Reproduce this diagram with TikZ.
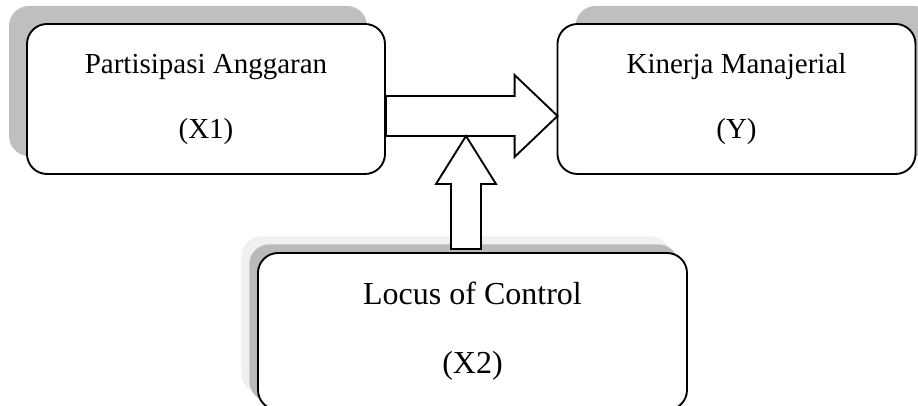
\documentclass[tikz,border=0pt]{standalone}
\usepackage{fontspec}
\setmainfont{Liberation Serif}
\usetikzlibrary{calc,shadows}

\tikzset{
    kotak/.style={draw, line width=1.4pt, fill=white, rounded corners=15pt,
        align=center, minimum width=268.5pt, minimum height=112.5pt,
        font=\fontsize{21.75pt}{48.75pt}\selectfont},
    panah/.style={draw, line width=1.4pt, fill=white, line join=miter}
}

\begin{document}
\begin{tikzpicture}[x=0.75pt, y=0.75pt]
    \useasboundingbox (0, 0) rectangle (918, 406);
    \clip (0, 0) rectangle (918, 406);

    % 上面两个框
    \node[kotak, drop shadow={shadow xshift=-13.5pt, shadow yshift=13.5pt, opacity=1, fill=black!25}]
        (x1) at (206, 307) {Partisipasi Anggaran\\(X1)};
    \node[kotak, drop shadow={shadow xshift=13.5pt, shadow yshift=13.5pt, opacity=1, fill=black!25}]
        (y) at (736.5, 307) {Kinerja Manajerial\\(Y)};

    % 下面的框
    \node[kotak, minimum width=321.75pt, minimum height=117.75pt,
        font=\fontsize{24pt}{51.75pt}\selectfont,
        drop shadow={shadow xshift=-12.5pt, shadow yshift=12.5pt, opacity=1, fill=black!6},
        drop shadow={shadow xshift=-6.5pt, shadow yshift=6.5pt, opacity=1, fill=black!27}]
        (x2) at (472.5, 74.5) {Locus of Control\\(X2)};

    % 横向箭头
    \coordinate (ha) at ($(x1.east)+(0,-17)$);
    \coordinate (hb) at ($(y.west)+(1,-17)$);
    \draw[panah] ($(ha)+(0,20)$) -- ($(hb)+(-43,20)$) -- ($(hb)+(-43,41)$) -- (hb)
        -- ($(hb)+(-43,-41)$) -- ($(hb)+(-43,-20)$) -- ($(ha)+(0,-20)$) -- cycle;

    % 纵向箭头
    \coordinate (va) at ($(x2.north)+(-6.5,3)$);
    \coordinate (vb) at (va |- {$(ha)+(0,-20)$});
    \draw[panah] ($(va)+(-15,0)$) -- ($(vb)+(-15,-48)$) -- ($(vb)+(-30,-48)$) -- (vb)
        -- ($(vb)+(30,-48)$) -- ($(vb)+(15,-48)$) -- ($(va)+(15,0)$) -- cycle;
\end{tikzpicture}
\end{document}
